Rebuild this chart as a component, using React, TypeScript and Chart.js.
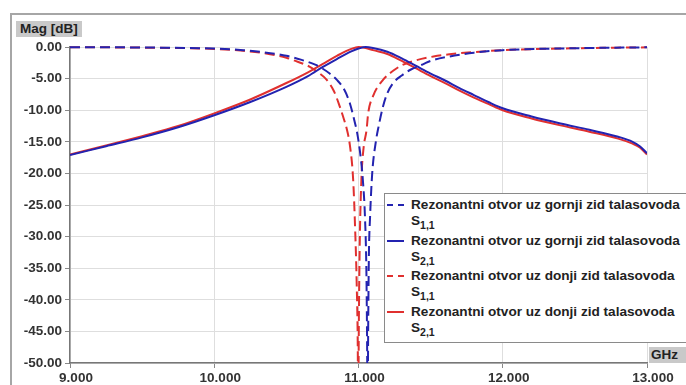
import React, { useEffect, useRef } from "react";
import { Chart, registerables } from "chart.js";

Chart.register(...registerables);

const BLUE = "#2323b0";
const RED = "#e0302f";
const FONT = '"Liberation Sans", Arial, sans-serif';

const xTicks = [9, 10, 11, 12, 13];
const yTicks = [0, -5, -10, -15, -20, -25, -30, -35, -40, -45, -50];

// Blue: Rezonantni otvor uz gornji zid talasovoda, S1,1 (dashed)
const blueS11F = [9.0, 9.5, 10.0, 10.2, 10.35, 10.5, 10.6, 10.7, 10.75, 10.8, 10.85, 10.9, 10.94, 10.97, 10.99, 11.01, 11.03, 11.045, 11.055, 11.06, 11.063, 11.067, 11.072, 11.08, 11.095, 11.12, 11.14, 11.17, 11.2, 11.24, 11.3, 11.36, 11.45, 11.5, 11.63, 11.8, 12.0, 12.5, 13.0];
const blueS11 = [-0.02, -0.08, -0.25, -0.5, -0.85, -1.4, -2.0, -2.8, -3.4, -4.2, -5.2, -6.7, -8.9, -11.5, -13.5, -16.5, -21, -27, -36, -48, -60, -45, -33, -27, -20, -15, -12.5, -9.4, -7.3, -5.7, -4.5, -3.6, -2.7, -2.2, -1.5, -0.9, -0.5, -0.2, -0.05];

// Blue: S2,1 (solid)
const blueS21F = [9.0, 9.25, 9.5, 9.75, 10.0, 10.25, 10.5, 10.65, 10.75, 10.85, 10.95, 11.0, 11.05, 11.1, 11.2, 11.3, 11.4, 11.5, 11.6, 11.7, 11.8, 11.9, 12.0, 12.2, 12.4, 12.6, 12.8, 12.9, 12.95, 13.0];
const blueS21 = [-17.1, -15.7, -14.3, -12.7, -10.8, -8.7, -6.3, -4.6, -3.2, -1.9, -0.7, -0.25, 0, -0.15, -0.75, -1.8, -3.0, -4.2, -5.3, -6.5, -7.6, -8.7, -9.7, -11.0, -12.1, -13.1, -14.2, -15.0, -15.7, -16.8];

// Red: Rezonantni otvor uz donji zid talasovoda, S1,1 (dashed)
const redS11F = [9.0, 9.5, 10.0, 10.2, 10.35, 10.5, 10.55, 10.66, 10.72, 10.78, 10.83, 10.87, 10.9, 10.92, 10.94, 10.963, 10.977, 10.987, 10.995, 10.998, 11.002, 11.008, 11.02, 11.035, 11.056, 11.067, 11.1, 11.17, 11.25, 11.3, 11.4, 11.52, 11.63, 11.8, 12.0, 12.5, 13.0];
const redS11 = [-0.02, -0.1, -0.3, -0.6, -1.0, -1.7, -2.1, -3.1, -4.0, -5.2, -7.0, -9.4, -11.5, -13.1, -15.5, -21, -29, -37, -48, -60, -45, -32, -21, -16, -13.1, -10.5, -7.8, -5.2, -3.6, -2.9, -2.1, -1.5, -1.15, -0.8, -0.5, -0.2, -0.05];

// Red: S2,1 (solid)
const redS21F = [9.0, 9.25, 9.5, 9.75, 10.0, 10.25, 10.5, 10.65, 10.75, 10.85, 10.95, 11.0, 11.05, 11.1, 11.2, 11.3, 11.4, 11.5, 11.6, 11.7, 11.8, 11.9, 12.0, 12.2, 12.4, 12.6, 12.8, 12.9, 12.95, 13.0];
const redS21 = [-17.0, -15.6, -14.1, -12.5, -10.5, -8.3, -5.7, -4.0, -2.7, -1.4, -0.3, 0, -0.15, -0.5, -1.1, -2.2, -3.4, -4.6, -5.7, -6.9, -8.0, -9.0, -10.0, -11.3, -12.4, -13.4, -14.5, -15.3, -15.9, -17.0];

const legendLabels = [
  "Rezonantni otvor uz gornji zid talasovoda",
  "Rezonantni otvor uz gornji zid talasovoda",
  "Rezonantni otvor uz donji zid talasovoda",
  "Rezonantni otvor uz donji zid talasovoda",
];
const legendSubs = ["1,1", "2,1", "1,1", "2,1"];
const legendColors = [BLUE, BLUE, RED, RED];
const legendDashed = [true, false, true, false];

const toPts = (xs: number[], ys: number[]) => xs.map((x, i) => ({ x, y: ys[i] }));

export default function App() {
  const ref = useRef<HTMLCanvasElement | null>(null);

  useEffect(() => {
    if (!ref.current) return;
    const clip = { left: 0, top: 4, right: 0, bottom: 0 };
    const tickFont = { family: FONT, size: 13.5, weight: "bold" as const };
    const chart = new Chart(ref.current, {
      type: "line",
      data: {
        datasets: [
          { label: "S11 gornji", data: toPts(blueS11F, blueS11), borderColor: BLUE, borderDash: [10, 5], clip } as any,
          { label: "S21 gornji", data: toPts(blueS21F, blueS21), borderColor: BLUE, clip } as any,
          { label: "S11 donji", data: toPts(redS11F, redS11), borderColor: RED, borderDash: [10, 5], clip } as any,
          { label: "S21 donji", data: toPts(redS21F, redS21), borderColor: RED, clip } as any,
        ],
      },
      options: {
        animation: false,
        responsive: false,
        devicePixelRatio: 1,
        layout: { padding: { left: 0, top: 47, right: 39, bottom: 0 } },
        plugins: { legend: { display: false }, tooltip: { enabled: false } },
        elements: {
          point: { radius: 0 },
          line: { borderWidth: 2, cubicInterpolationMode: "monotone", fill: false },
        },
        scales: {
          x: {
            type: "linear",
            min: 9,
            max: 13,
            afterBuildTicks: (s: any) => {
              s.ticks = xTicks.map((v) => ({ value: v }));
            },
            afterFit: (s: any) => {
              s.height = 22;
            },
            ticks: {
              callback: (v: any) => Number(v).toFixed(3),
              font: tickFont,
              color: "#333",
              labelOffset: 6,
              padding: 2,
              maxRotation: 0,
              autoSkip: false,
            },
            grid: { color: "#dedede", tickColor: "#888", tickLength: 5, lineWidth: 1 },
            border: { color: "#777", width: 1.5 },
          },
          y: {
            type: "linear",
            min: -50,
            max: 0,
            afterBuildTicks: (s: any) => {
              s.ticks = yTicks.map((v) => ({ value: v }));
            },
            afterFit: (s: any) => {
              s.width = 70;
            },
            ticks: {
              callback: (v: any) => Number(v).toFixed(2),
              font: tickFont,
              color: "#333",
              padding: 3,
              autoSkip: false,
            },
            grid: { color: "#dedede", tickColor: "#888", tickLength: 5, lineWidth: 1 },
            border: { color: "#777", width: 1.5 },
          },
        },
      } as any,
    });
    return () => chart.destroy();
  }, []);

  const boxLabel: React.CSSProperties = {
    position: "absolute",
    background: "#c9c9c9",
    fontFamily: FONT,
    fontWeight: "bold",
    fontSize: "13.5px",
    color: "#222",
    lineHeight: "16px",
    whiteSpace: "nowrap",
  };

  return (
    <div
      style={{
        position: "absolute",
        left: 0,
        top: 0,
        width: 686,
        height: 385,
        overflow: "hidden",
        background: "#fff",
      }}
    >
      <div
        style={{
          position: "absolute",
          left: 10,
          top: 13,
          width: 720,
          height: 420,
          borderLeft: "2px solid #a6a6a6",
          borderTop: "2px solid #a6a6a6",
        }}
      />
      <canvas ref={ref} width={686} height={385} style={{ position: "absolute", left: 0, top: 0, width: 686, height: 385 }} />
      <div style={{ ...boxLabel, left: 16, top: 21, width: 62, height: 16, paddingLeft: 4 }}>Mag [dB]</div>
      <div style={{ ...boxLabel, left: 649, top: 347, width: 40, height: 16, paddingLeft: 2 }}>GHz</div>
      <div
        style={{
          position: "absolute",
          left: 384,
          top: 193,
          width: 320,
          height: 148,
          border: "1px solid #8a8a8a",
          background: "#fff",
        }}
      />
      {legendLabels.map((lab, i) => {
        const cy = 205 + i * 35.6;
        return (
          <React.Fragment key={i}>
            <div
              style={{
                position: "absolute",
                left: 387,
                top: cy - 1,
                width: 17,
                height: 0,
                borderTop: `2px ${legendDashed[i] ? "dashed" : "solid"} ${legendColors[i]}`,
              }}
            />
            <div
              style={{
                position: "absolute",
                left: 411,
                top: cy - 8,
                fontFamily: FONT,
                fontWeight: "bold",
                fontSize: "13.6px",
                lineHeight: "16px",
                color: "#222",
                whiteSpace: "nowrap",
              }}
            >
              {lab}
            </div>
            <div
              style={{
                position: "absolute",
                left: 411,
                top: cy + 8,
                fontFamily: FONT,
                fontWeight: "bold",
                fontSize: "13.6px",
                lineHeight: "16px",
                color: "#222",
                whiteSpace: "nowrap",
              }}
            >
              S
              <span style={{ fontSize: "10.5px", position: "relative", top: 4 }}>{legendSubs[i]}</span>
            </div>
          </React.Fragment>
        );
      })}
    </div>
  );
}
